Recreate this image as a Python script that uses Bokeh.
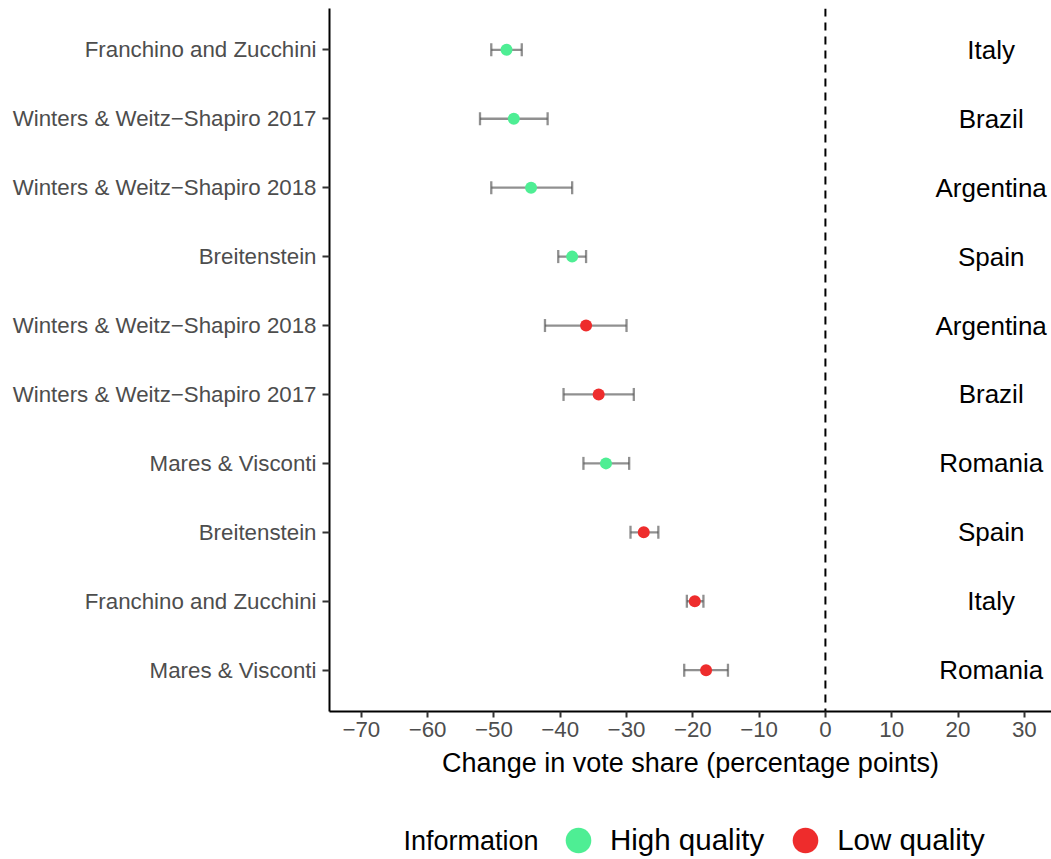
from bokeh.plotting import figure
from bokeh.layouts import column
from bokeh.models import (ColumnDataSource, Range1d, FixedTicker, Span, Whisker,
                          TeeHead, Legend, LegendItem, Label)
from bokeh.core.properties import value
from bokeh.embed import file_html
from bokeh.resources import INLINE

# Study estimates, listed from the top row to the bottom row
studies = ["Franchino and Zucchini", "Winters & Weitz−Shapiro 2017",
           "Winters & Weitz−Shapiro 2018", "Breitenstein",
           "Winters & Weitz−Shapiro 2018", "Winters & Weitz−Shapiro 2017",
           "Mares & Visconti", "Breitenstein", "Franchino and Zucchini",
           "Mares & Visconti"]
countries = ["Italy", "Brazil", "Argentina", "Spain", "Argentina", "Brazil",
             "Romania", "Spain", "Italy", "Romania"]
quality = ["High quality", "High quality", "High quality", "High quality",
           "Low quality", "Low quality", "High quality", "Low quality",
           "Low quality", "Low quality"]
estimate = [-48.1, -47.0, -44.4, -38.2, -36.1, -34.2, -33.1, -27.4, -19.7, -18.0]
lower = [-50.4, -52.1, -50.4, -40.3, -42.3, -39.5, -36.5, -29.4, -20.9, -21.3]
upper = [-45.8, -41.9, -38.2, -36.1, -30.0, -28.9, -29.6, -25.2, -18.4, -14.7]
x_ticks = [-70, -60, -50, -40, -30, -20, -10, 0, 10, 20, 30]
quality_levels = ["High quality", "Low quality"]
country_x = 25

FONT = "Liberation Sans"
colors = {"High quality": "#4EEE94", "Low quality": "#EE2C2C"}

n = len(studies)
rows = list(range(n, 0, -1))  # top study gets the highest row

p = figure(width=1051, height=780, output_backend="svg", toolbar_location=None,
           x_range=Range1d(-74.8, 34.1), y_range=Range1d(0.4, n + 0.6),
           min_border_left=329, min_border_right=0, min_border_top=8,
           min_border_bottom=69)
p.outline_line_color = None
p.xgrid.visible = False
p.ygrid.visible = False

# reference line at zero change
p.add_layout(Span(location=0, dimension="height", line_color="black",
                  line_width=2, line_dash="8 6"))

# points, one renderer per information quality
for q in quality_levels:
    idx = [i for i in range(n) if quality[i] == q]
    src = ColumnDataSource(dict(x=[estimate[i] for i in idx],
                                y=[rows[i] for i in idx]))
    p.scatter("x", "y", source=src, size=12, marker="circle",
              fill_color=colors[q], line_color=None)

# confidence intervals drawn over the points
err_src = ColumnDataSource(dict(y=rows, lower=lower, upper=upper))
bar_color = "#555555"
bar_alpha = 0.65
p.add_layout(Whisker(source=err_src, base="y", lower="lower", upper="upper",
                     dimension="width", line_color=bar_color, line_alpha=bar_alpha,
                     line_width=2.3,
                     lower_head=TeeHead(size=13, line_color=bar_color,
                                        line_alpha=bar_alpha, line_width=2.3),
                     upper_head=TeeHead(size=13, line_color=bar_color,
                                        line_alpha=bar_alpha, line_width=2.3)))

# country names on the right
p.text(x=[country_x] * n, y=rows, text=countries, text_align="center",
       text_baseline="middle", text_font=value(FONT), text_font_size="26px",
       text_color="black")

# axes
p.xaxis.ticker = FixedTicker(ticks=x_ticks)
p.xaxis.major_label_overrides = {t: str(t).replace("-", "−") for t in x_ticks}
p.xaxis.axis_label = "Change in vote share (percentage points)"
p.yaxis.ticker = FixedTicker(ticks=rows)
p.yaxis.major_label_overrides = {r: s for r, s in zip(rows, studies)}

for ax in (p.xaxis[0], p.yaxis[0]):
    ax.axis_line_color = "black"
    ax.axis_line_width = 2
    ax.major_tick_line_color = "#333333"
    ax.major_tick_line_width = 2
    ax.major_tick_in = 0
    ax.minor_tick_line_color = None
    ax.major_label_text_font = FONT
    ax.major_label_text_color = "#4d4d4d"
    ax.major_label_text_font_size = "22.3px"
    ax.axis_label_text_font = FONT
    ax.axis_label_text_font_style = "normal"
    ax.axis_label_text_font_size = "27px"
    ax.axis_label_text_color = "black"

p.xaxis.major_tick_out = 6
p.xaxis.major_label_standoff = 4
p.xaxis.axis_label_standoff = 8
p.yaxis.major_tick_out = 7
p.yaxis.major_label_standoff = 6

# legend strip under the chart (its frame lines up with the chart's frame)
lg = figure(width=1051, height=79, output_backend="svg", toolbar_location=None,
            x_range=Range1d(0, 1), y_range=Range1d(0, 1),
            x_axis_location=None, y_axis_location=None,
            min_border_left=329, min_border_right=0, min_border_top=0,
            min_border_bottom=0)
lg.outline_line_color = None
lg.xgrid.visible = False
lg.ygrid.visible = False

nan = float("nan")
keys = {q: lg.scatter([nan], [nan], size=12, marker="circle",
                      fill_color=colors[q], line_color=None)
        for q in quality_levels}
legend = Legend(items=[LegendItem(label=q, renderers=[keys[q]])
                       for q in quality_levels],
                orientation="horizontal", location=(217, -13),
                glyph_width=64, glyph_height=64, label_standoff=0, spacing=9,
                padding=0, margin=0, border_line_color=None,
                background_fill_alpha=0, label_text_font=FONT,
                label_text_font_size="29.5px", label_text_color="black",
                label_text_baseline="middle")
lg.add_layout(legend, "center")
lg.add_layout(Label(x=74, y=19, x_units="screen", y_units="screen",
                    text="Information", text_font=FONT, text_font_size="27px",
                    text_baseline="middle", text_color="black"))

open("out.html", "w").write(file_html(column(p, lg, spacing=0), INLINE))
